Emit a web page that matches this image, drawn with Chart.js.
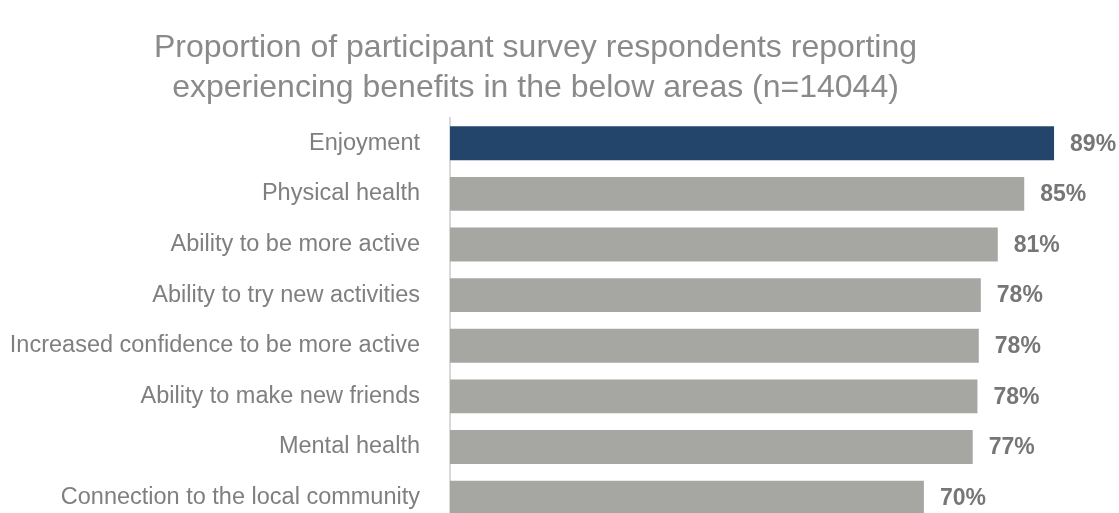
<!DOCTYPE html>
<html>
<head>
<meta charset="utf-8">
<script src="https://cdn.jsdelivr.net/npm/chart.js@4"></script>
<style>
  html, body { margin: 0; padding: 0; background: #fff; overflow: hidden; }
  #wrap { position: relative; width: 1119px; height: 559px; }
</style>
</head>
<body>
<div id="wrap"><canvas id="bar-chart"></canvas></div>
<script>
var categories = ["Enjoyment", "Physical health", "Ability to be more active", "Ability to try new activities",
    "Increased confidence to be more active", "Ability to make new friends", "Mental health",
    "Connection to the local community"];
var percentages = [89.1, 84.7, 80.8, 78.3, 78.0, 77.8, 77.1, 69.9];
var barColours = ["#23456b", "#a6a6a2", "#a6a6a2", "#a6a6a2", "#a6a6a2", "#a6a6a2", "#a6a6a2", "#a6a6a2"];
var titleLines = ["Proportion of participant survey respondents reporting",
    "experiencing benefits in the below areas (n=14044)"];

// draws the "89%" style labels just past the end of each bar
var valueLabels = {
    id: 'valueLabels',
    afterDatasetsDraw: function (chart) {
        var ctx = chart.ctx;
        ctx.save();
        ctx.font = "bold 23px 'Liberation Sans', Arial, sans-serif";
        ctx.fillStyle = "#767676";
        ctx.textAlign = "left";
        ctx.textBaseline = "middle";
        chart.getDatasetMeta(0).data.forEach(function (bar, i) {
            ctx.fillText(Math.round(percentages[i]) + "%", bar.x + 16, bar.y + 1);
        });
        ctx.restore();
    }
};

new Chart(document.getElementById("bar-chart"), {
    type: 'bar',
    data: {
        labels: categories,
        datasets: [
            {
                label: "Proportion",
                backgroundColor: barColours,
                data: percentages,
                barPercentage: 0.67,
                categoryPercentage: 1
            }
        ]
    },
    options: {
        indexAxis: 'y',
        responsive: true,
        maintainAspectRatio: false,
        animation: false,
        layout: { padding: { left: 0, right: 48, top: 0, bottom: 0 } },
        plugins: {
            legend: { display: false },
            tooltip: { enabled: false },
            title: {
                display: true,
                text: titleLines,
                color: "#8a8a8a",
                font: { family: "'Liberation Sans', Arial, sans-serif", size: 32, weight: 'normal', lineHeight: 1.25 },
                padding: { top: 28, bottom: 10 }
            }
        },
        scales: {
            x: {
                display: false,
                min: 0,
                max: 91.6
            },
            y: {
                afterFit: function (scale) { scale.width = 450; },
                grid: { display: false },
                border: { display: true, color: "#d9d9d9", width: 2 },
                ticks: {
                    color: "#7f7f7f",
                    padding: 22,
                    font: { family: "'Liberation Sans', Arial, sans-serif", size: 23.5 }
                }
            }
        }
    },
    plugins: [valueLabels]
});
</script>
</body>
</html>
